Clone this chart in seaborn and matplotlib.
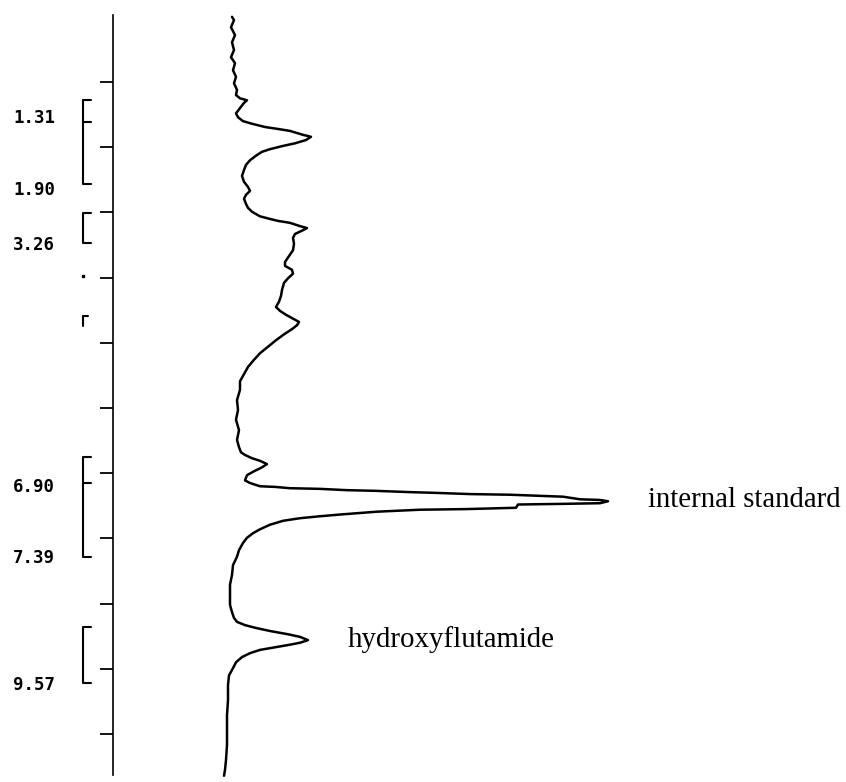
import matplotlib
matplotlib.use("Agg")
import matplotlib.pyplot as plt
import seaborn as sns
import pandas as pd

# Chromatogram trace: retention time (min) vs detector response (arbitrary units)
time_min = [0.00, 0.05, 0.16, 0.28, 0.39, 0.51, 0.62, 0.71, 0.82, 0.92, 1.02, 1.12, 1.20,
            1.25, 1.28, 1.32, 1.40, 1.48, 1.54, 1.60, 1.64, 1.69, 1.72, 1.75, 1.81, 1.84,
            1.89, 1.94, 1.98, 2.03, 2.07, 2.13, 2.20, 2.27, 2.35, 2.44, 2.53, 2.61, 2.67,
            2.73, 2.79, 2.87, 2.93, 2.99, 3.06, 3.10, 3.13, 3.16, 3.21, 3.24, 3.28, 3.33,
            3.39, 3.48, 3.58, 3.67, 3.76, 3.82, 3.88, 3.94, 4.01, 4.08, 4.19, 4.28, 4.37,
            4.45, 4.51, 4.57, 4.63, 4.68, 4.73, 4.79, 4.87, 4.96, 5.06, 5.16, 5.26, 5.37,
            5.48, 5.59, 5.72, 5.88, 6.03, 6.18, 6.34, 6.49, 6.60, 6.68, 6.72, 6.77, 6.81,
            6.86, 6.91, 6.97, 7.03, 7.11, 7.15, 7.20, 7.21, 7.23, 7.24, 7.26, 7.27, 7.29,
            7.30, 7.32, 7.33, 7.36, 7.40, 7.41, 7.43, 7.46, 7.47, 7.48, 7.53, 7.55, 7.56,
            7.59, 7.63, 7.66, 7.69, 7.73, 7.79, 7.86, 7.92, 7.99, 8.07, 8.18, 8.28, 8.41,
            8.56, 8.71, 8.87, 9.02, 9.13, 9.22, 9.28, 9.33, 9.37, 9.42, 9.47, 9.51, 9.56,
            9.60, 9.63, 9.67, 9.71, 9.76, 9.82, 9.90, 9.99, 10.10, 10.25, 10.48, 10.71,
            10.94, 11.17, 11.40, 11.55, 11.64]
response = [0, 2, -1, 3, 0, 2, -1, 3, 1, 4, 2, 5, 4,
            8, 15, 12, 8, 4, 6, 11, 20, 33, 46, 58, 71, 79,
            74, 63, 51, 38, 30, 24, 18, 14, 12, 10, 12, 16, 18,
            14, 12, 14, 16, 20, 28, 38, 46, 58, 68, 75, 70, 63,
            61, 62, 61, 57, 53, 53, 60, 61, 56, 52, 50, 49, 47,
            44, 48, 54, 61, 67, 65, 60, 52, 44, 36, 28, 22, 16,
            12, 8, 8, 5, 6, 4, 7, 5, 7, 9, 13, 20, 28,
            35, 30, 22, 15, 13, 18, 28, 43, 58, 88, 115, 143, 178,
            201, 238, 278, 331, 348, 368, 376, 368, 331, 286, 284, 235, 188,
            145, 111, 88, 68, 51, 38, 28, 21, 15, 11, 7, 5, 1,
            0, -2, -2, -2, 0, 2, 5, 13, 23, 38, 56, 68, 76,
            68, 58, 43, 28, 18, 10, 4, 1, -3, -4, -4, -5,
            -5, -5, -6, -7, -8]

# Integrator output: printed retention times and their print positions
rt_labels = ["1.31", "1.90", "3.26", "6.90", "7.39", "9.57"]
rt_label_pos = [1.63, 2.73, 3.58, 7.29, 8.38, 10.32]

# Integration brackets (start, end) and split marks, in minutes
bracket_start = [1.28, 3.01, 6.75, 9.36]
bracket_end = [2.56, 3.47, 8.28, 10.22]
split_marks = [1.61, 7.15]

# Peak names
peak_names = ["internal standard", "hydroxyflutamide"]
peak_times = [7.52, 9.67]
peak_text_x = [416, 116]

df = pd.DataFrame({"time": time_min, "response": response})

sns.set_style("white")
plt.rcParams["font.family"] = ["DejaVu Sans"]
plt.rcParams["text.color"] = "black"

fig = plt.figure(figsize=(8.46, 7.82), dpi=100)
ax = fig.add_axes([0, 0, 1, 1])

sns.lineplot(data=df, x="response", y="time", sort=False, estimator=None,
             color="black", linewidth=1.8, ax=ax)

ax.set_xlim(-232, 614)
ax.set_ylim(11.736, -0.258)

# time axis drawn as a spine with minute ticks
for side in ["top", "right", "bottom"]:
    ax.spines[side].set_visible(False)
ax.spines["left"].set_position(("data", -119))
ax.spines["left"].set_bounds(-0.03, 11.63)
ax.spines["left"].set_color("black")
ax.spines["left"].set_linewidth(1.2)
ax.set_yticks(range(1, 12))
ax.set_xticks([])
ax.tick_params(axis="y", direction="out", length=9.4, width=1.3, color="black",
               labelleft=False, left=True)
ax.set_xlabel("")
ax.set_ylabel("")

# integration brackets
bx0, bx1 = -149, -141
for s, e in zip(bracket_start, bracket_end):
    ax.plot([bx1, bx0, bx0, bx1], [s, s, e, e], color="black", lw=1.5)
for m in split_marks:
    ax.plot([bx0, bx1], [m, m], color="black", lw=1.5)
ax.plot([bx0], [3.98], marker="s", ms=2, color="black")
ax.plot([bx0, bx0, bx0 + 5], [4.74, 4.59, 4.59], color="black", lw=1.5)

for lab, pos in zip(rt_labels, rt_label_pos):
    ax.text(-219, pos, lab, family="DejaVu Sans Mono", fontweight="bold",
            fontsize=12.5, va="baseline", ha="left", color="black")

for name, t, x in zip(peak_names, peak_times, peak_text_x):
    ax.text(x, t, name, family="Liberation Serif", fontsize=20.8,
            va="baseline", ha="left", color="black")

plt.savefig("out.png", dpi=100)
